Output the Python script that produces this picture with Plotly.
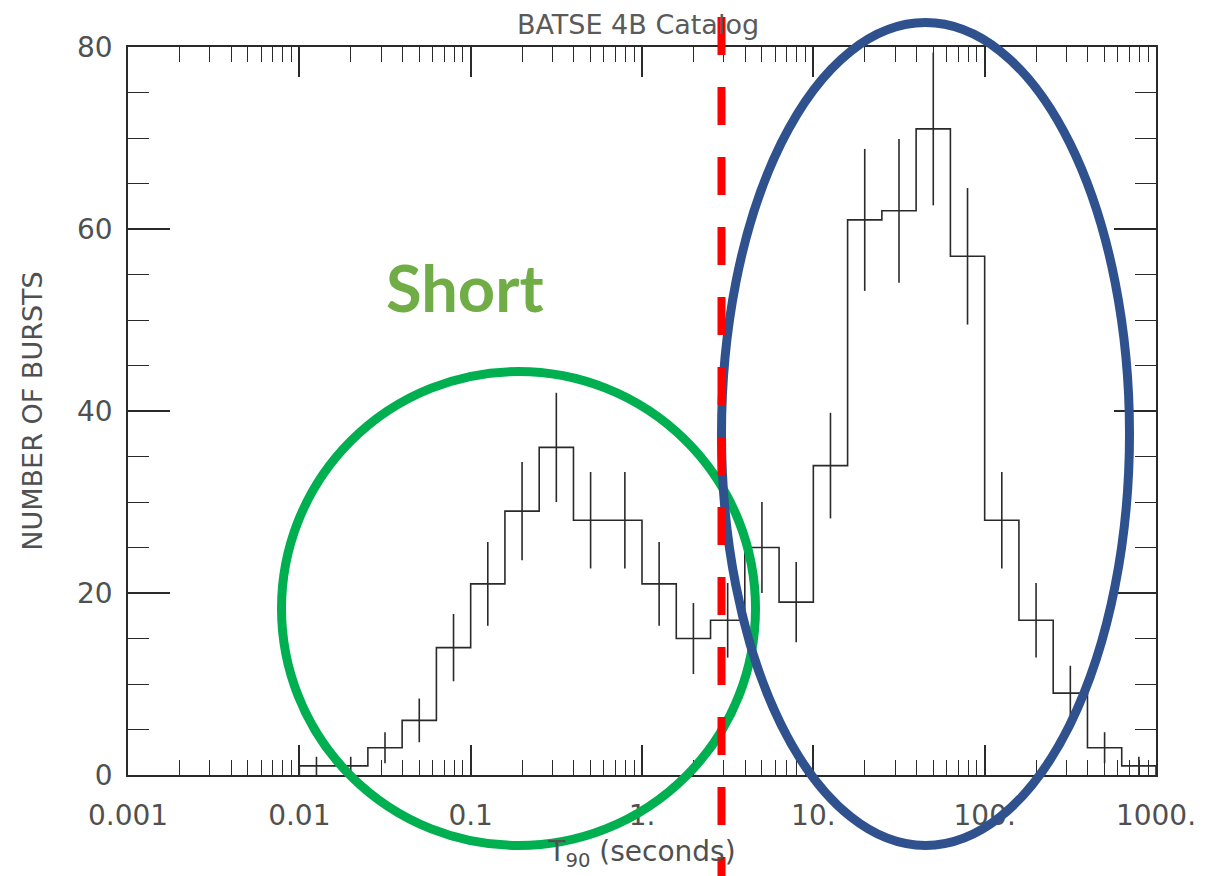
import plotly.graph_objects as go

# ---------------- data ----------------
# log10(T90 / s) edges of the histogram bins (0.2 dex bins)
log_bin_edges = [-2.0, -1.8, -1.6, -1.4, -1.2, -1.0, -0.8, -0.6, -0.4, -0.2, 0.0,
                 0.2, 0.4, 0.6, 0.8, 1.0, 1.2, 1.4, 1.6, 1.8, 2.0, 2.2, 2.4, 2.6, 2.8, 3.0]
burst_counts = [1, 1, 3, 6, 14, 21, 29, 36, 28, 28, 21, 15, 17,
                25, 19, 34, 61, 62, 71, 57, 28, 17, 9, 3, 1]
count_errors = [1.0, 1.0, 1.7, 2.4, 3.7, 4.6, 5.4, 6.0, 5.3, 5.3, 4.6, 3.9, 4.1,
                5.0, 4.4, 5.8, 7.8, 7.9, 8.4, 7.5, 5.3, 4.1, 3.0, 1.7, 1.0]
x_tick_values = [0.001, 0.01, 0.1, 1, 10, 100, 1000]
x_tick_labels = ["0.001", "0.01", "0.1", "1.", "10.", "100.", "1000."]
y_tick_values = [0, 20, 40, 60, 80]
title_text = "BATSE 4B Catalog"
x_title = "T<sub>90</sub> (seconds)"
y_title = "NUMBER OF BURSTS"
short_label = "Short"

# ---------------- layout geometry (page pixels) ----------------
PAGE_W, PAGE_H = 1211, 876
OFF = 8                      # default body margin of the html page
W, H = PAGE_W - OFF, PAGE_H - OFF
L, R, T, B = 128 - OFF, 1156 - OFF, 47 - OFF, 775 - OFF


def px(x):
    """page x pixel -> paper fraction"""
    return (x - OFF - L) / (R - L)


def py(y):
    """page y pixel -> paper fraction"""
    return (B - (y - OFF)) / (B - T)


edges = [10 ** e for e in log_bin_edges]
centers = [10 ** ((log_bin_edges[i] + log_bin_edges[i + 1]) / 2) for i in range(len(burst_counts))]

step_x = [edges[0]] + edges[:-1] + [edges[-1], edges[-1]]
step_y = [0] + burst_counts + [burst_counts[-1], 0]

ink = "#2a2a2a"
txt = "#505050"
idl_font = "DejaVu Sans"

fig = go.Figure()
fig.add_trace(go.Scatter(
    x=step_x, y=step_y, mode="lines", line=dict(color=ink, width=1.6, shape="hv"),
    hoverinfo="skip", showlegend=False))
fig.add_trace(go.Scatter(
    x=centers, y=burst_counts, mode="markers", marker=dict(size=1, opacity=0),
    error_y=dict(type="data", array=count_errors, visible=True, width=0,
                 thickness=1.6, color=ink),
    showlegend=False))

minor_x = [k * 10 ** n for n in range(-3, 3) for k in range(2, 10)]

fig.update_xaxes(
    type="log", range=[-3, 3], tickmode="array", tickvals=x_tick_values, ticktext=x_tick_labels,
    ticks="inside", ticklen=30, tickwidth=1.5, tickcolor=ink, mirror="ticks",
    showline=True, linecolor=ink, linewidth=1.6, showgrid=False, zeroline=False,
    tickfont=dict(family=idl_font, size=28, color=txt), ticklabelstandoff=15,
    minor=dict(tickmode="array", tickvals=minor_x, ticks="inside", ticklen=15,
               tickwidth=1.3, tickcolor=ink, showgrid=False),
    title=dict(text=x_title, font=dict(family=idl_font, size=28, color=txt), standoff=10),
    automargin=False,
)
fig.update_yaxes(
    range=[0, 80], tickmode="array", tickvals=y_tick_values,
    ticks="inside", ticklen=42, tickwidth=1.5, tickcolor=ink, mirror="ticks",
    showline=True, linecolor=ink, linewidth=1.6, showgrid=False, zeroline=False,
    tickfont=dict(family=idl_font, size=28, color=txt), ticklabelstandoff=8,
    minor=dict(dtick=5, ticks="inside", ticklen=21, tickwidth=1.3, tickcolor=ink, showgrid=False),
    title=dict(text=y_title, font=dict(family=idl_font, size=27, color=txt), standoff=27),
    automargin=False,
)

shapes = [
    dict(type="circle", xref="paper", yref="paper",
         x0=px(281.5), x1=px(755.5), y0=py(845.5), y1=py(371.5),
         line=dict(color="#00B050", width=9), layer="above"),
    dict(type="circle", xref="paper", yref="paper",
         x0=px(721.5), x1=px(1129.5), y0=py(845.5), y1=py(22.5),
         line=dict(color="#2F528F", width=9), layer="above"),
    dict(type="line", xref="paper", yref="paper",
         x0=px(721.5), x1=px(721.5), y0=py(17), y1=py(900),
         line=dict(color="#FF0000", width=8, dash="38px,32px"), layer="above"),
]

fig.update_layout(
    width=W, height=H,
    margin=dict(l=L, r=W - R, t=T, b=H - B, autoexpand=False),
    paper_bgcolor="white", plot_bgcolor="white",
    title=dict(text=title_text, font=dict(family=idl_font, size=27, color="#5a5a5a"),
               x=px(638), xref="paper", xanchor="center",
               y=1 - 17 / H, yref="container", yanchor="middle", automargin=False),
    shapes=shapes,
    annotations=[dict(text="<b>" + short_label + "</b>", xref="paper", yref="paper",
                      x=px(464.5), y=py(287), xanchor="center", yanchor="middle",
                      showarrow=False, font=dict(family="Lato", size=65, color="#70AD47"))],
    showlegend=False,
)

fig.write_html("out.html")
